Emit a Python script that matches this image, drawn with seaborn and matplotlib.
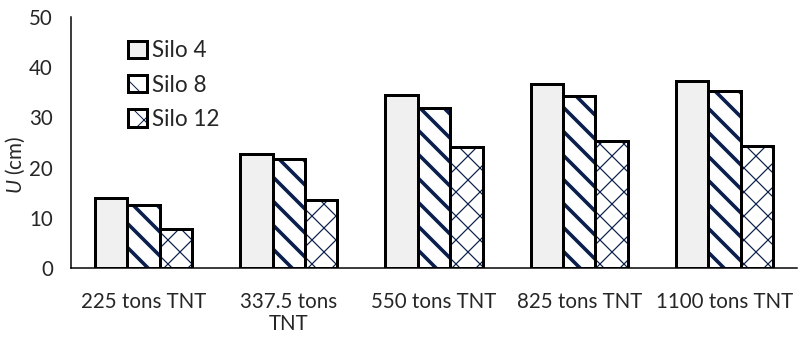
import matplotlib
matplotlib.use("Agg")
import matplotlib.pyplot as plt
from matplotlib.patches import Patch, Rectangle
from matplotlib.legend_handler import HandlerTuple
from matplotlib.lines import Line2D
import seaborn as sns
import pandas as pd

# Charge sizes and peak displacement per silo
charges = ["225 tons TNT", "337.5 tons\nTNT", "550 tons TNT", "825 tons TNT", "1100 tons TNT"]
silo_names = ["Silo 4", "Silo 8", "Silo 12"]
silo4 = [14.0, 22.8, 34.4, 36.6, 37.2]
silo8 = [12.5, 21.8, 31.9, 34.2, 35.2]
silo12 = [7.8, 13.6, 24.1, 25.2, 24.4]
y_ticks = [0, 10, 20, 30, 40, 50]

sns.set_theme(style="white")
plt.rcParams["font.family"] = ["Lato", "DejaVu Sans"]
plt.rcParams["mathtext.fontset"] = "custom"
plt.rcParams["mathtext.it"] = "Lato:italic"
plt.rcParams["mathtext.rm"] = "Lato"

NAVY = "#0a1f4d"
FILL = ["#f0f0f0", "white", "white"]
HATCH = [None, "\\", "x"]
HATCH_LW = [0, 3.6, 1.2]
EDGE_LW = 3.0
FS = 20.5
LEG_FS = 22.5

df = pd.DataFrame({
    "charge": charges * 3,
    "silo": [s for s in silo_names for _ in charges],
    "U": silo4 + silo8 + silo12,
})

DPI = 72
fig = plt.figure(figsize=(799 / DPI, 338 / DPI), dpi=DPI)
ax = fig.add_axes([71 / 799, 1 - 268 / 338, 726 / 799, 251 / 338])

sns.barplot(data=df, x="charge", y="U", hue="silo", hue_order=silo_names,
            palette=FILL, width=0.67, gap=0, legend=False, ax=ax,
            errorbar=None)

for i, cont in enumerate(ax.containers):
    for bar in cont:
        if HATCH[i]:
            bar.set_hatch(HATCH[i])
            bar.set_edgecolor(NAVY)
            if hasattr(bar, "set_hatch_linewidth"):
                bar.set_hatch_linewidth(HATCH_LW[i])
        bar.set_linewidth(0)
        ax.add_patch(Rectangle((bar.get_x(), bar.get_y()), bar.get_width(), bar.get_height(),
                               fill=False, edgecolor="black", linewidth=EDGE_LW,
                               joinstyle="miter", zorder=3))

ax.set_xlim(-0.5, len(charges) - 0.5)
ax.set_ylim(y_ticks[0], y_ticks[-1])
ax.set_yticks(y_ticks)
ax.set_xticks(range(len(charges)))
ax.set_xticklabels(charges, fontsize=FS, linespacing=1.15)
ax.set_xticks([k - 0.5 for k in range(len(charges) + 1)], minor=True)
ax.tick_params(axis="x", which="major", length=0, pad=24)
ax.tick_params(axis="x", which="minor", length=6, width=1.5, direction="out", color="black")
ax.tick_params(axis="y", which="major", length=6, width=1.5, direction="out", color="black",
               labelsize=FS, pad=12)
ax.set_xlabel("")
ax.set_ylabel("$U$ (cm)", fontsize=FS, labelpad=0)
ax.yaxis.set_label_coords(-0.060, 0.41)

sns.despine(ax=ax)
for side in ("left", "bottom"):
    ax.spines[side].set_color("black")
    ax.spines[side].set_linewidth(1.5)
ax.grid(False)

handles = []
for i in range(3):
    face = Patch(facecolor=FILL[i], edgecolor=NAVY if HATCH[i] else "none",
                 hatch=HATCH[i], linewidth=0)
    if HATCH[i] and hasattr(face, "set_hatch_linewidth"):
        face.set_hatch_linewidth(HATCH_LW[i])
    outline = Patch(fill=False, edgecolor="black", linewidth=EDGE_LW)
    handles.append((face, outline))

ax.legend(handles, silo_names, handler_map={tuple: HandlerTuple(ndivide=1, pad=0)},
          loc="upper left", bbox_to_anchor=(0.079, 0.907), frameon=False,
          fontsize=LEG_FS, handlelength=0.85, handleheight=0.8, handletextpad=0.2,
          labelspacing=0.59, borderpad=0, borderaxespad=0)

fig.add_artist(Line2D([798.5 / 799] * 2, [0, 1], transform=fig.transFigure,
                      color="#d0d0d0", linewidth=1))

fig.savefig("out.png", dpi=DPI)
